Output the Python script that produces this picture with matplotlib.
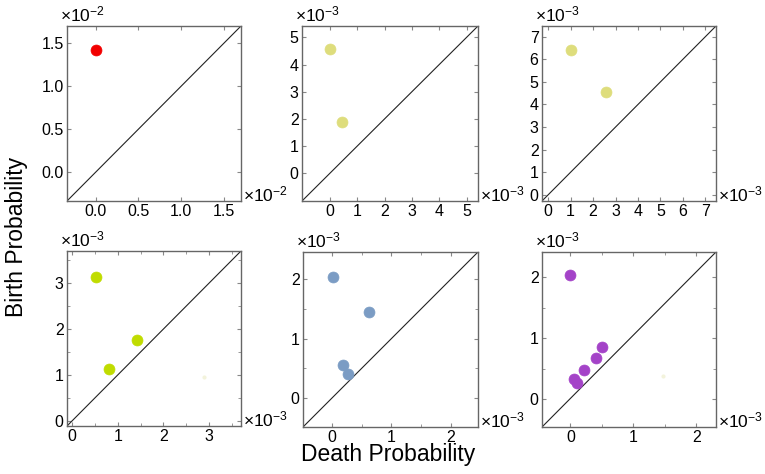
import numpy as np
import matplotlib.pyplot as plt
from matplotlib.ticker import FixedLocator, MultipleLocator, FormatStrFormatter

plt.rcParams['font.family'] = 'Liberation Sans'
plt.rcParams['mathtext.fontset'] = 'custom'
plt.rcParams['mathtext.rm'] = 'Liberation Sans'
plt.rcParams['mathtext.it'] = 'Liberation Sans'

# persistence diagram points (in units of 10^exp)
death_1 = [0.0]
birth_1 = [1.42]
death_2 = [0.0, 0.45]
birth_2 = [4.57, 1.87]
death_3 = [1.0, 2.56]
birth_3 = [6.40, 4.55]
death_4 = [0.52, 1.42, 0.80]
birth_4 = [3.13, 1.76, 1.14]
death_5 = [0.02, 0.63, 0.19, 0.27]
birth_5 = [2.03, 1.44, 0.56, 0.40]
death_6 = [0.0, 0.50, 0.41, 0.21, 0.05, 0.11]
birth_6 = [2.03, 0.86, 0.68, 0.48, 0.34, 0.27]
# barely visible specks
faint_death = [None, None, None, 2.90, None, 1.47]
faint_birth = [None, None, None, 0.95, None, 0.38]

exps = [-2, -3, -3, -3, -3, -3]
colors = ['#f20000', '#dedd7c', '#dedd7c', '#c0dc00', '#7b9cc4', '#a443c8']
xlims = [(-0.335, 1.70), (-1.03, 5.42), (-0.27, 7.47), (-0.11, 3.70), (-0.48, 2.45), (-0.45, 2.31)]
ylims = [(-0.335, 1.70), (-1.03, 5.42), (-0.27, 7.47), (-0.11, 3.70), (-0.48, 2.45), (-0.45, 2.41)]
ticks = [[0, 0.5, 1.0, 1.5], [0, 1, 2, 3, 4, 5], [0, 1, 2, 3, 4, 5, 6, 7],
         [0, 1, 2, 3], [0, 1, 2], [0, 1, 2]]
minor = [None, None, None, 0.5, 0.5, 0.5]

deaths = [death_1, death_2, death_3, death_4, death_5, death_6]
births = [birth_1, birth_2, birth_3, birth_4, birth_5, birth_6]

# axes boxes in pixels: left, top, right, bottom
boxes = [(67, 26, 241, 201), (302, 26, 478, 201), (542, 26, 716, 201),
         (67, 251, 241, 426), (303, 252, 478, 427), (542, 252, 716, 427)]

W, H = 765, 474
fig = plt.figure(figsize=(W / 100, H / 100), dpi=100)

for i in range(6):
    l, t, r, b = boxes[i]
    ax = fig.add_axes([l / W, 1 - b / H, (r - l) / W, (b - t) / H])
    ax.plot([0, 1], [0, 1], transform=ax.transAxes, color='#222222', lw=0.8)
    ax.scatter(deaths[i], births[i], s=62, color=colors[i], edgecolors=colors[i],
               linewidths=0.5, zorder=3)
    if faint_death[i] is not None:
        ax.scatter([faint_death[i]], [faint_birth[i]], s=4, color='#f3f3dc', zorder=2)
    ax.set_xlim(xlims[i])
    ax.set_ylim(ylims[i])
    ax.xaxis.set_major_locator(FixedLocator(ticks[i]))
    ax.yaxis.set_major_locator(FixedLocator(ticks[i]))
    if minor[i]:
        ax.xaxis.set_minor_locator(MultipleLocator(minor[i]))
        ax.yaxis.set_minor_locator(MultipleLocator(minor[i]))
    if i == 0:
        ax.xaxis.set_major_formatter(FormatStrFormatter('%.1f'))
        ax.yaxis.set_major_formatter(FormatStrFormatter('%.1f'))
    ax.tick_params(which='both', direction='in', top=True, right=True,
                   color='#888888', labelsize=11.5, pad=2.5)
    ax.tick_params(which='major', length=3)
    ax.tick_params(which='minor', length=2)
    for sp in ax.spines.values():
        sp.set_color('#666666')
        sp.set_linewidth(1.0)
    off = r'$\times10^{%d}$' % exps[i]
    ax.text(-0.04, 1.01, off, transform=ax.transAxes, fontsize=12.5,
            ha='left', va='bottom')
    ax.text(1.01, 0.035, off, transform=ax.transAxes, fontsize=12.5,
            ha='left', va='center')

fig.text(17 / W, 1 - 237 / H, 'Birth Probability', rotation=90, fontsize=16.5,
         ha='center', va='center')
fig.text(388 / W, 1 - 461 / H, 'Death Probability', fontsize=16.5,
         ha='center', va='baseline')

fig.savefig('out.png', dpi=100)
